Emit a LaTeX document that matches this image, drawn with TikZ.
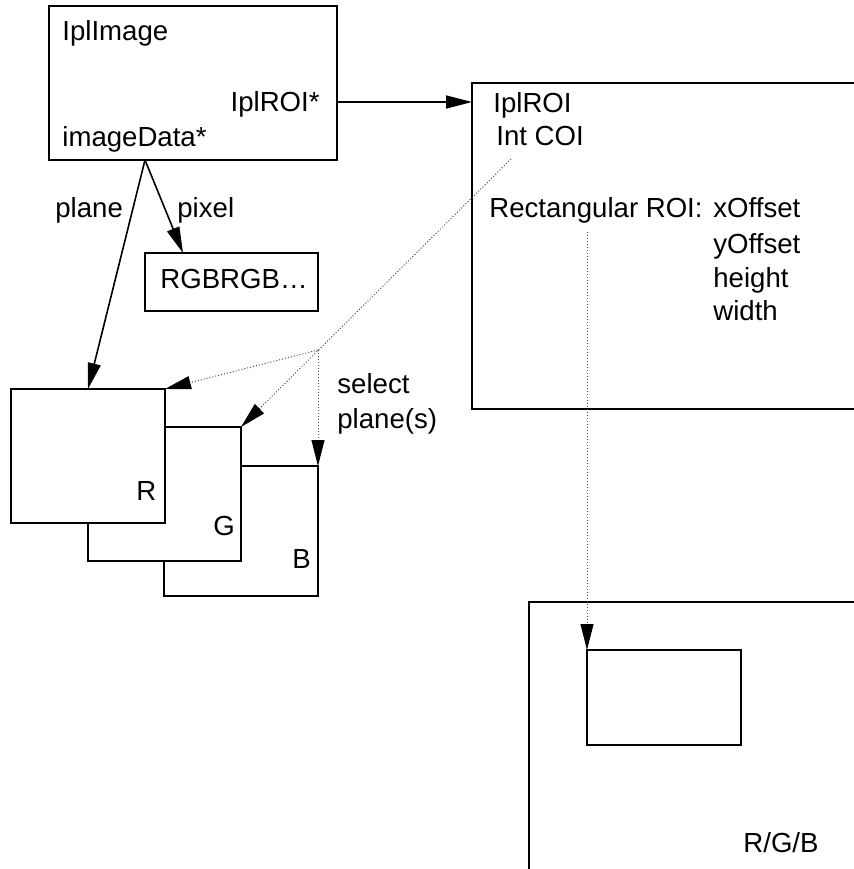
\documentclass[tikz,border=0pt]{standalone}
\usepackage{fontspec}
\setmainfont{Liberation Sans}
\usetikzlibrary{arrows.meta}
\begin{document}
\begin{tikzpicture}[x=0.5pt,y=-0.5pt,
  every node/.style={font=\fontsize{13.8}{16}\selectfont,inner sep=0pt,anchor=base west},
  box/.style={line width=1pt},
  ptr/.style={line width=0.8pt,-{Triangle[length=13pt,width=6.5pt]}},
  sel/.style={line width=0.5pt,densely dotted,black!70,-{Triangle[length=13pt,width=6.5pt,black]}}]
\useasboundingbox (0,0) rectangle (854,869);
\coordinate (imgNW)  at (49,6);
\coordinate (imgSE)  at (337,160);
\coordinate (data)   at (145,160);
\coordinate (roiptr) at (337,102);
\coordinate (roiin)  at (472,102);
\coordinate (rgbNW)  at (145,253);
\coordinate (rgbSE)  at (318,311);
\coordinate (rgbtop) at (183,253);
\coordinate (RNW)    at (11,389);
\coordinate (RSE)    at (165,523);
\coordinate (Rtop)   at (88,389);
\coordinate (GNW)    at (88,427);
\coordinate (GSE)    at (241,561);
\coordinate (GNE)    at (241,427);
\coordinate (BNW)    at (164,466);
\coordinate (BSE)    at (318,596);
\coordinate (BNE)    at (318,466);
\coordinate (RNE)    at (165,389);
\coordinate (coi)    at (511,159);
\coordinate (J)      at (318,350);
\coordinate (roisrc) at (587,232);
\coordinate (subNW)  at (587,650);
\coordinate (subSE)  at (741,745);

% Structure boxes.
\draw[box] (imgNW) rectangle (imgSE);
\draw[box] (rgbNW) rectangle (rgbSE);
\draw[box] (854,83) -- (472,83) -- (472,409) -- (854,409);
\draw[box] (854,602) -- (529,602) -- (529,869);
\draw[box] (subNW) rectangle (subSE);

% Colour planes, back to front.
\draw[box,fill=white] (BNW) rectangle (BSE);
\draw[box,fill=white] (GNW) rectangle (GSE);
\draw[box,fill=white] (RNW) rectangle (RSE);

% Pointers.
\draw[ptr] (roiptr) -- (roiin);
\draw[ptr] (data) -- (Rtop);
\draw[ptr] (data) -- (rgbtop);

% Plane selection and ROI.
\draw[sel] (coi) -- (GNE);
\draw[sel] (J) -- (RNE);
\draw[sel] (J) -- (BNE);
\draw[sel] (roisrc) -- (subNW);

\node (imgname)  at (62,40)   {IplImage};
\node[anchor=base east] (roistar) at (320,111) {IplROI*};
\node (imgdata)  at (62,146)  {imageData*};
\node (plane)    at (55,217)  {plane};
\node (pixel)    at (177,217) {pixel};
\node (rgbtxt)   at (160,288) {RGBRGB…};
\node (Rname)    at (136,500) {R};
\node (Gname)    at (213,535) {G};
\node (Bname)    at (292,568) {B};
\node (select)   at (337,393) {select};
\node (planes)   at (337,428) {plane(s)};
\node (roiname)  at (493,112) {IplROI};
\node (coiname)  at (496,145) {Int COI};
\node (rectroi)  at (489,217) {Rectangular ROI:};
\node (xoff)     at (713,217) {xOffset};
\node (yoff)     at (713,253) {yOffset};
\node (hgt)      at (713,287) {height};
\node (wdt)      at (713,320) {width};
\node (rgbname)  at (743,852) {R/G/B};
\end{tikzpicture}
\end{document}
